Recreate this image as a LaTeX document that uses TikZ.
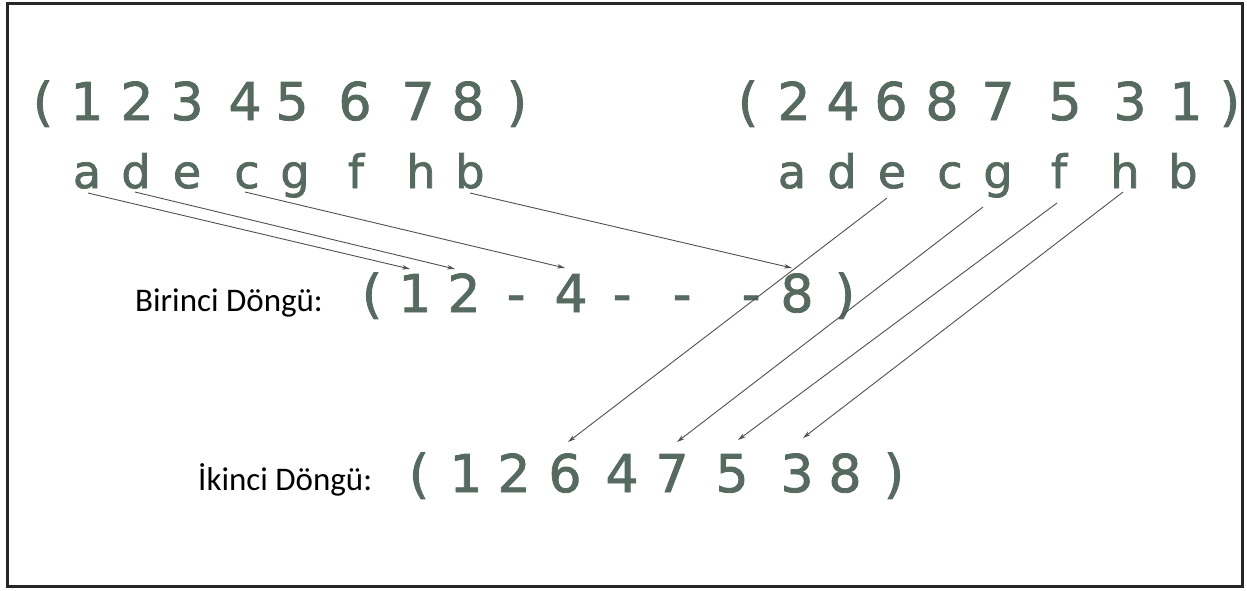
\documentclass[tikz,border=0pt]{standalone}
\usepackage{fontspec}
\setmainfont{DejaVu Sans}
\newfontfamily\digfont[FakeBold=1.6]{DejaVu Sans}
\newfontfamily\labfont{Carlito}
\usetikzlibrary{calc,arrows.meta}
\definecolor{dig}{RGB}{86,106,96}
\definecolor{ln}{RGB}{80,80,80}
\tikzset{
 big/.style={font=\digfont\fontsize{52}{52}\selectfont, text=dig, inner sep=0pt, anchor=base},
 let/.style={font=\digfont\fontsize{46}{46}\selectfont, text=dig, inner sep=0pt, anchor=base},
 lab/.style={font=\labfont\fontsize{33}{33}\selectfont, text=black, inner sep=0pt, anchor=base west},
 conn/.style={draw=ln, line width=0.9pt, -{Stealth[length=8pt,width=4.5pt]}},
}
\begin{document}
\begin{tikzpicture}[x=1pt,y=-1pt]
\useasboundingbox (0,0) rectangle (1247,590);
\draw[line width=3pt, black!85] (7,3) rectangle (1242,586);
% top-left permutation
\node[big] (Lpo) at (43,120) {(};
\node[big] (L1) at (87,120) {1};
\node[big] (L2) at (137,120) {2};
\node[big] (L3) at (187,120) {3};
\node[big] (L4) at (245,120) {4};
\node[big] (L5) at (292,120) {5};
\node[big] (L6) at (355,120) {6};
\node[big] (L7) at (418,120) {7};
\node[big] (L8) at (468,120) {8};
\node[big] (Lpc) at (517,120) {)};
\node[let] (La) at (87,188) {a};
\node[let] (Ld) at (136,188) {d};
\node[let] (Le) at (187,188) {e};
\node[let] (Lc) at (247,188) {c};
\node[let] (Lg) at (295,188) {g};
\node[let] (Lf) at (356,188) {f};
\node[let] (Lh) at (421,188) {h};
\node[let] (Lb) at (470,188) {b};
% top-right permutation
\node[big] (Rpo) at (748,120) {(};
\node[big] (R2) at (794,120) {2};
\node[big] (R4) at (843,120) {4};
\node[big] (R6) at (891,120) {6};
\node[big] (R8) at (942,120) {8};
\node[big] (R7) at (998,120) {7};
\node[big] (R5) at (1065,120) {5};
\node[big] (R3) at (1130,120) {3};
\node[big] (R1) at (1186,120) {1};
\node[big] (Rpc) at (1230,120) {)};
\node[let] (Ra) at (792,188) {a};
\node[let] (Rd) at (842,188) {d};
\node[let] (Re) at (892,188) {e};
\node[let] (Rc) at (950,188) {c};
\node[let] (Rg) at (998,188) {g};
\node[let] (Rf) at (1059,188) {f};
\node[let] (Rh) at (1125,188) {h};
\node[let] (Rb) at (1183,188) {b};
% first cycle
\node[lab] (Blab) at (135,311) {Birinci Döngü:};
\node[big] (Bpo) at (372,312) {(};
\node[big] (B1) at (415,312) {1};
\node[big] (B2) at (464,312) {2};
\node[big] (Bd1) at (516,312) {-};
\node[big] (B4) at (571,312) {4};
\node[big] (Bd2) at (622,312) {-};
\node[big] (Bd3) at (682,312) {-};
\node[big] (Bd4) at (751,312) {-};
\node[big] (B8) at (797,312) {8};
\node[big] (Bpc) at (845,312) {)};
% second cycle
\node[lab] (Ilab) at (198,490) {İkinci Döngü:};
\node[big] (Ipo) at (419,492) {(};
\node[big] (I1) at (466,492) {1};
\node[big] (I2) at (514,492) {2};
\node[big] (I6) at (565,492) {6};
\node[big] (I4) at (622,492) {4};
\node[big] (I7) at (672,492) {7};
\node[big] (I5) at (732,492) {5};
\node[big] (I3) at (797,492) {3};
\node[big] (I8) at (845,492) {8};
\node[big] (Ipc) at (894,492) {)};
% connectors
\draw[conn] ($(La.base)+(1,5)$) -- ($(B1.base)+(-5,-43)$);
\draw[conn] ($(Ld.base)+(-1,4)$) -- ($(B2.base)+(-9,-43)$);
\draw[conn] ($(Lc.base)+(-2,4)$) -- ($(B4.base)+(-6,-44)$);
\draw[conn] ($(Lb.base)+(0,5)$) -- ($(B8.base)+(-5,-44)$);
\draw[conn] ($(Re.base)+(-5,10)$) -- ($(I6.base)+(3,-50)$);
\draw[conn] ($(Rg.base)+(-15,19)$) -- ($(I7.base)+(5,-50)$);
\draw[conn] ($(Rf.base)+(-2,15)$) -- ($(I5.base)+(6,-52)$);
\draw[conn] ($(Rh.base)+(-2,4)$) -- ($(I3.base)+(6,-54)$);
\end{tikzpicture}
\end{document}
